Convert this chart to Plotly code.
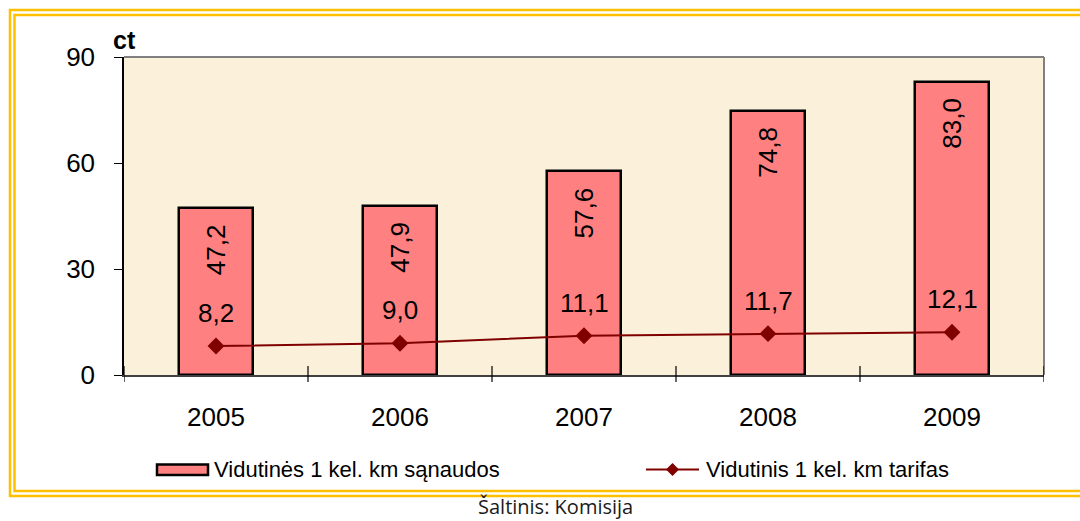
import plotly.graph_objects as go

# Data
years = ["2005", "2006", "2007", "2008", "2009"]
sanaudos = [47.2, 47.9, 57.6, 74.8, 83.0]   # Vidutinės 1 kel. km sąnaudos, ct
tarifas = [8.2, 9.0, 11.1, 11.7, 12.1]      # Vidutinis 1 kel. km tarifas, ct
y_ticks = [0, 30, 60, 90]

W, H = 1080, 521
L, R, T, B = 124, 36, 57, 146
PW, PH = W - L - R, H - T - B

FONT = "Liberation Sans, Arial, sans-serif"
BAR_COLOR = "#FF8080"
LINE_COLOR = "#800000"
FRAME = "#FFC000"


def fmt(v):
    return f"{v:.1f}".replace(".", ",")


def px(x):
    return (x - L) / PW


def py(y):
    return (H - B - y) / PH


xs = list(range(len(years)))
boundaries = [i - 0.5 for i in range(len(years) + 1)]

fig = go.Figure()

fig.add_trace(go.Bar(
    x=xs, y=sanaudos, width=0.4,
    marker=dict(color=BAR_COLOR, line=dict(color="#000000", width=2.5)),
    name="Vidutinės 1 kel. km sąnaudos", showlegend=False,
))
fig.add_trace(go.Scatter(
    x=xs, y=tarifas, mode="lines+markers",
    line=dict(color=LINE_COLOR, width=2),
    marker=dict(symbol="diamond", size=13, color=LINE_COLOR),
    name="Vidutinis 1 kel. km tarifas", showlegend=False,
))

annotations = []
for x, v in zip(xs, sanaudos):
    annotations.append(dict(x=x, y=v, xref="x", yref="y", text=fmt(v), showarrow=False,
                            textangle=-90, xanchor="center", yanchor="middle", yshift=-42,
                            font=dict(family=FONT, size=26, color="#000000")))
for x, v in zip(xs, tarifas):
    annotations.append(dict(x=x, y=v, xref="x", yref="y", text=fmt(v), showarrow=False,
                            xanchor="center", yanchor="middle", yshift=33,
                            font=dict(family=FONT, size=26, color="#000000")))

# axis unit
annotations.append(dict(x=px(111), y=py(40), xref="paper", yref="paper", text="<b>ct</b>",
                        showarrow=False, xanchor="left", yanchor="middle",
                        font=dict(family=FONT, size=25, color="#000000")))

# legend
annotations.append(dict(x=px(212), y=py(469), xref="paper", yref="paper",
                        text="Vidutinės 1 kel. km sąnaudos", showarrow=False,
                        xanchor="left", yanchor="middle",
                        font=dict(family=FONT, size=22, color="#000000")))
annotations.append(dict(x=px(704), y=py(469), xref="paper", yref="paper",
                        text="Vidutinis 1 kel. km tarifas", showarrow=False,
                        xanchor="left", yanchor="middle",
                        font=dict(family=FONT, size=22, color="#000000")))
# source note
annotations.append(dict(x=px(555), y=py(507), xref="paper", yref="paper",
                        text="Šaltinis: Komisija", showarrow=False,
                        xanchor="center", yanchor="middle",
                        font=dict(family="Open Sans, sans-serif", size=20, color="#1a1a1a")))

shapes = []
# double yellow frame
shapes.append(dict(type="rect", xref="paper", yref="paper",
                   x0=px(10), x1=px(1095), y0=py(496), y1=py(10),
                   line=dict(color=FRAME, width=2.5), layer="below"))
shapes.append(dict(type="rect", xref="paper", yref="paper",
                   x0=px(14.5), x1=px(1090), y0=py(491), y1=py(15),
                   line=dict(color=FRAME, width=2.5), layer="below"))
# plot area border (top / right)
shapes.append(dict(type="line", xref="paper", yref="paper", x0=0, x1=1, y0=1, y1=1,
                   line=dict(color="#808080", width=2)))
shapes.append(dict(type="line", xref="paper", yref="paper", x0=1, x1=1, y0=0, y1=1,
                   line=dict(color="#808080", width=2)))
# category boundary ticks crossing the x axis
for bx in boundaries:
    shapes.append(dict(type="line", xref="x", yref="paper", x0=bx, x1=bx,
                       y0=py(382), y1=py(366), line=dict(color="#000000", width=1.2)))
# legend symbols
shapes.append(dict(type="rect", xref="paper", yref="paper",
                   x0=px(157), x1=px(208), y0=py(475), y1=py(464.5),
                   fillcolor=BAR_COLOR, line=dict(color="#000000", width=2.5)))
shapes.append(dict(type="line", xref="paper", yref="paper",
                   x0=px(646), x1=px(699), y0=py(469.5), y1=py(469.5),
                   line=dict(color=LINE_COLOR, width=2)))
shapes.append(dict(type="path", xref="paper", yref="paper",
                   path=f"M {px(666)} {py(469.5)} L {px(672.5)} {py(463)} L {px(679)} {py(469.5)} L {px(672.5)} {py(476)} Z",
                   fillcolor=LINE_COLOR, line=dict(color=LINE_COLOR, width=0)))

fig.update_layout(
    width=W, height=H,
    margin=dict(l=L, r=R, t=T, b=B),
    paper_bgcolor="#FFFFFF",
    plot_bgcolor="#FBF1DB",
    showlegend=False,
    bargap=0,
    annotations=annotations,
    shapes=shapes,
    xaxis=dict(
        range=[-0.5, len(years) - 0.5],
        tickvals=xs, ticktext=years,
        ticks="", showgrid=False, zeroline=False,
        showline=True, linecolor="#404040", linewidth=1.5,
        tickfont=dict(family=FONT, size=26, color="#000000"),
        ticklabelstandoff=18,
    ),
    yaxis=dict(
        range=[0, 90], tickvals=y_ticks,
        ticks="outside", ticklen=8, tickcolor="#000000", tickwidth=1.2,
        showgrid=False, zeroline=False,
        showline=True, linecolor="#000000", linewidth=1.5,
        tickfont=dict(family=FONT, size=26, color="#000000"),
        ticklabelstandoff=14,
    ),
)

fig.write_html("out.html")
